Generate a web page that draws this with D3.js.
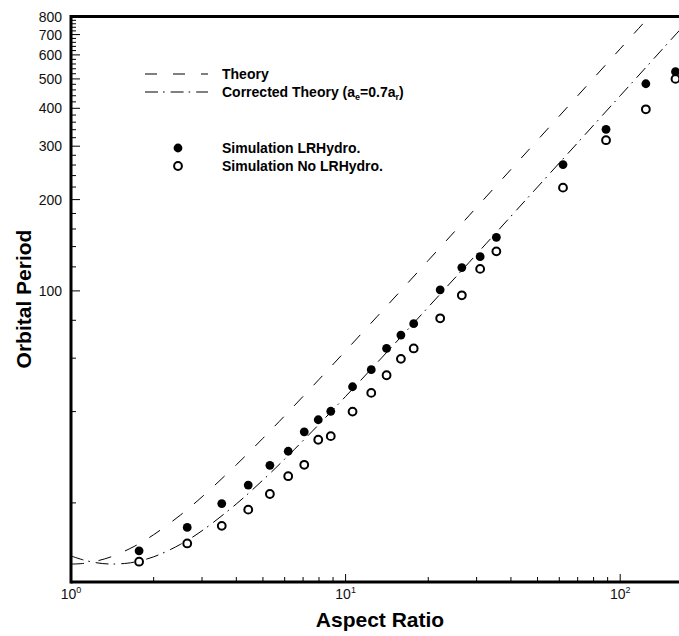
<!DOCTYPE html>
<html>
<head>
<meta charset="utf-8">
<script src="https://cdn.jsdelivr.net/npm/d3@7"></script>
<style>
  html, body { margin: 0; padding: 0; background: #fff; }
  svg { display: block; font-family: "Liberation Sans", Arial, Helvetica, sans-serif; }
</style>
</head>
<body>
<svg id="chart" width="679" height="636"></svg>
<script>
// Simulated orbital periods versus particle aspect ratio
const aspectRatio = [1.77, 2.65, 3.54, 4.42, 5.30, 6.18, 7.07, 7.95, 8.83, 10.6, 12.4,
                     14.1, 15.9, 17.7, 22.1, 26.5, 30.9, 35.4, 61.9, 88.8, 124, 159];
const periodLRHydro = [13.9, 16.6, 19.9, 22.9, 26.6, 29.6, 34.3, 37.6, 40.1, 48.3, 55.0,
                       64.6, 71.5, 78.0, 100.8, 119.4, 129.7, 150.2, 261, 341, 482, 528];
const periodNoLRHydro = [12.8, 14.7, 16.8, 19.0, 21.4, 24.5, 26.7, 32.3, 33.2, 40.0, 46.1,
                         52.7, 59.7, 64.6, 81.2, 96.7, 118.2, 135.0, 219, 314, 397, 500];

// Theory curve (Jeffery orbit period)
const theoryAspect = [1, 1.1, 1.2, 1.4, 1.7, 2, 2.5, 3, 4, 5, 6, 8, 10, 13, 16, 20,
                      25, 30, 40, 50, 70, 100, 130];
const theoryPeriod = [12.57, 12.62, 12.78, 13.28, 14.38, 15.71, 18.22, 20.94, 26.70, 32.67,
                      38.75, 51.05, 63.46, 82.17, 100.9, 126.0, 157.3, 188.7, 251.5, 314.3,
                      439.9, 628.4, 816.9];

// Corrected theory with effective aspect ratio a_e = 0.7 a_r
const correctedAspect = [1, 1.1, 1.2, 1.3, 1.43, 1.6, 1.7, 2, 2.5, 3, 4, 5, 6, 8, 10, 13,
                         16, 20, 25, 30, 40, 50, 70, 100, 130, 160, 200];
const correctedPeriod = [13.37, 13.00, 12.76, 12.62, 12.57, 12.65, 12.76, 13.28, 14.59, 16.19,
                         19.84, 23.79, 27.89, 36.31, 44.88, 57.87, 70.93, 88.41, 110.3, 132.2,
                         176.2, 220.1, 308.0, 439.9, 571.8, 703.8, 879.7];

// Axis ticks
const xMajorTicks = [1, 10, 100];
const xTickExponents = ["0", "1", "2"];
const xMinorTicks = [2, 3, 4, 5, 6, 7, 8, 9, 20, 30, 40, 50, 60, 70, 80, 90];
const yMajorTicks = [100, 200, 300, 400, 500, 600, 700, 800];
const yMinorTicks = d3.range(20, 800, 20).filter(v => v % 100 !== 0);

const svg = d3.select("#chart");
const W = 679, H = 636;
const plotLeft = 71, plotTop = 17, plotBottom = 582;

const x = d3.scaleLog().domain([1, 200]).range([plotLeft, plotLeft + 274.6 * Math.log10(200)]);
const y = d3.scaleLog().domain([10.97, 800]).range([plotBottom, plotTop]);

svg.append("rect").attr("width", W).attr("height", H).attr("fill", "#fff");

svg.append("clipPath").attr("id", "plotClip")
  .append("rect").attr("x", plotLeft).attr("y", plotTop)
  .attr("width", W - plotLeft).attr("height", plotBottom - plotTop);

const plot = svg.append("g").attr("clip-path", "url(#plotClip)");

const line = d3.line()
  .x(d => x(d[0]))
  .y(d => y(d[1]))
  .curve(d3.curveCatmullRom.alpha(0.5));

plot.append("path")
  .datum(theoryAspect.map((a, i) => [a, theoryPeriod[i]]))
  .attr("d", line)
  .attr("fill", "none").attr("stroke", "#000").attr("stroke-width", 1)
  .attr("stroke-dasharray", "13,15");

plot.append("path")
  .datum(correctedAspect.map((a, i) => [a, correctedPeriod[i]]))
  .attr("d", line)
  .attr("fill", "none").attr("stroke", "#000").attr("stroke-width", 1)
  .attr("stroke-dasharray", "13,5,1.6,6");

// Simulation markers
plot.append("g").selectAll("circle")
  .data(aspectRatio.map((a, i) => [a, periodNoLRHydro[i]]))
  .join("circle")
  .attr("cx", d => x(d[0])).attr("cy", d => y(d[1]))
  .attr("r", 3.9).attr("fill", "#fff").attr("stroke", "#000").attr("stroke-width", 2);

plot.append("g").selectAll("circle")
  .data(aspectRatio.map((a, i) => [a, periodLRHydro[i]]))
  .join("circle")
  .attr("cx", d => x(d[0])).attr("cy", d => y(d[1]))
  .attr("r", 4.4).attr("fill", "#000");

// Axes frame
const axisG = svg.append("g").attr("stroke", "#000").attr("fill", "none");
axisG.append("line").attr("x1", plotLeft).attr("x2", W).attr("y1", plotBottom).attr("y2", plotBottom).attr("stroke-width", 3);
axisG.append("line").attr("x1", plotLeft).attr("x2", W).attr("y1", plotTop - 0.5).attr("y2", plotTop - 0.5).attr("stroke-width", 3);
axisG.append("line").attr("x1", plotLeft).attr("x2", plotLeft).attr("y1", plotTop - 2).attr("y2", plotBottom + 1.5).attr("stroke-width", 3);

// X ticks (inward)
axisG.selectAll(".xmaj").data(xMajorTicks).join("line")
  .attr("x1", d => x(d)).attr("x2", d => x(d))
  .attr("y1", plotBottom).attr("y2", plotBottom - 8).attr("stroke-width", 1);
axisG.selectAll(".xmin").data(xMinorTicks).join("line")
  .attr("x1", d => x(d)).attr("x2", d => x(d))
  .attr("y1", plotBottom).attr("y2", plotBottom - 5).attr("stroke-width", 1);

// Y ticks (inward)
axisG.selectAll(".ymaj").data(yMajorTicks).join("line")
  .attr("x1", plotLeft).attr("x2", plotLeft + 9)
  .attr("y1", d => y(d)).attr("y2", d => y(d)).attr("stroke-width", 1);
axisG.selectAll(".ymin").data(yMinorTicks).join("line")
  .attr("x1", plotLeft).attr("x2", plotLeft + 5)
  .attr("y1", d => y(d)).attr("y2", d => y(d)).attr("stroke-width", 1);

// Tick labels
svg.append("g").selectAll("text").data(yMajorTicks).join("text")
  .attr("x", 62).attr("y", d => y(d) + 5)
  .attr("text-anchor", "end").attr("font-size", 14).attr("fill", "#111")
  .text(d => d);

const xl = svg.append("g").selectAll("text").data(xMajorTicks).join("text")
  .attr("x", d => x(d)).attr("y", 599)
  .attr("text-anchor", "middle").attr("font-size", 14).attr("fill", "#111");
xl.append("tspan").text("10");
xl.append("tspan").attr("dy", -6).attr("font-size", 9).text((d, i) => xTickExponents[i]);

// Axis titles
svg.append("text").attr("x", 380).attr("y", 627)
  .attr("text-anchor", "middle").attr("font-size", 21).attr("font-weight", "bold")
  .text("Aspect Ratio");
svg.append("text").attr("transform", "translate(31,299) rotate(-90)")
  .attr("text-anchor", "middle").attr("font-size", 21).attr("font-weight", "bold")
  .text("Orbital Period");

// Legend
const lg = svg.append("g").attr("font-size", 14).attr("font-weight", "bold");
lg.append("line").attr("x1", 145).attr("x2", 208).attr("y1", 74).attr("y2", 74)
  .attr("stroke", "#000").attr("stroke-width", 1).attr("stroke-dasharray", "12,16");
lg.append("text").attr("x", 222).attr("y", 78.5).text("Theory");
lg.append("line").attr("x1", 145).attr("x2", 208).attr("y1", 92).attr("y2", 92)
  .attr("stroke", "#000").attr("stroke-width", 1).attr("stroke-dasharray", "13,5,1.6,6");
const ct = lg.append("text").attr("x", 222).attr("y", 96.5);
ct.append("tspan").text("Corrected Theory (a");
ct.append("tspan").attr("font-size", 9).attr("dy", 3).text("e");
ct.append("tspan").attr("dy", -3).text("=0.7a");
ct.append("tspan").attr("font-size", 9).attr("dy", 3).text("r");
ct.append("tspan").attr("dy", -3).text(")");

lg.append("circle").attr("cx", 178).attr("cy", 148).attr("r", 4.4).attr("fill", "#000");
lg.append("text").attr("x", 222).attr("y", 152.5).text("Simulation LRHydro.");
lg.append("circle").attr("cx", 178).attr("cy", 166).attr("r", 3.9)
  .attr("fill", "#fff").attr("stroke", "#000").attr("stroke-width", 2);
lg.append("text").attr("x", 222).attr("y", 170.5).text("Simulation No LRHydro.");
</script>
</body>
</html>
